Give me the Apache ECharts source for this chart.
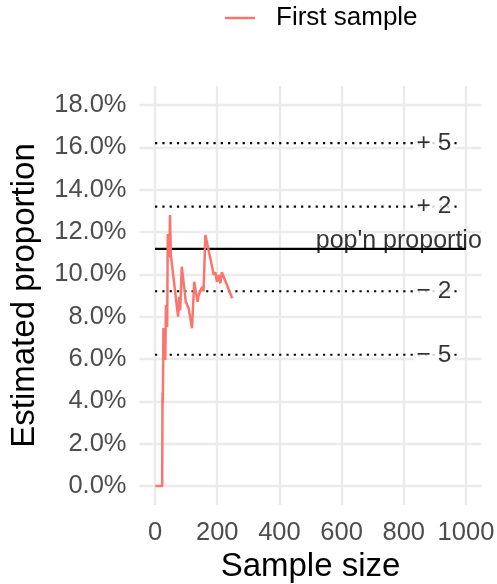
<!DOCTYPE html>
<html>
<head>
<meta charset="utf-8">
<script src="https://cdn.jsdelivr.net/npm/echarts@6/dist/echarts.min.js"></script>
<style>
html,body{margin:0;padding:0;background:#fff;}
#chart{width:497px;height:584px;}
</style>
</head>
<body>
<div id="chart"></div>
<script>
// Sample sizes and running estimated proportion (%) of the first sample
const sampleSizes = [1, 23, 24, 25, 27, 33, 35, 39, 41, 46, 48, 51, 74, 78, 81, 86, 99, 108, 119, 126, 137, 140, 151, 156, 162, 189, 194, 199, 205, 210, 215, 248];
const estimates   = [0, 0, 4.4, 3.9, 7.46, 5.95, 8.55, 7.5, 11.9, 10.8, 12.8, 10.9, 8.0, 8.94, 8.3, 10.36, 8.7, 8.4, 7.45, 9.65, 8.7, 9.0, 9.4, 9.2, 11.86, 9.97, 10.1, 9.65, 9.97, 9.57, 10.1, 8.87];

// Population proportion (%) and reference band offsets (percentage points)
const popProportion = 11.2;
const bandOffsets = [5, 2, -2, -5];
const bandLabels = ['+ 5', '+ 2', '\u2212 2', '\u2212 5'];
const bandStart = 0, bandEnd = 975, bandLabelX = 897;
const popLineStart = 0, popLineEnd = 1000, popLabelX = 517;
const popLabel = "pop'n proportion";

// Axis ticks
const xTicks = [0, 200, 400, 600, 800, 1000];
const yTicks = [0, 2, 4, 6, 8, 10, 12, 14, 16, 18];

const FONT = 'Liberation Sans, Arial, Helvetica, sans-serif';
const chart = echarts.init(document.getElementById('chart'), null, {renderer: 'canvas'});

const series = [];
series.push({
  name: 'First sample',
  type: 'line',
  data: sampleSizes.map((n, i) => [n, estimates[i]]),
  showSymbol: false,
  symbol: 'none',
  lineStyle: {color: '#F8766D', width: 2.5},
  itemStyle: {color: '#F8766D'},
  z: 5,
  animation: false
});
bandOffsets.forEach((d, i) => {
  const y = +(popProportion + d).toFixed(2);
  series.push({
    name: 'band' + i,
    type: 'line',
    data: [[bandStart, y], [bandEnd, y]],
    symbol: 'none',
    lineStyle: {color: '#000', width: 2.2, type: [2.2, 5.1], cap: 'butt'},
    silent: true,
    z: 3,
    animation: false
  });
  series.push({
    name: 'bandLabel' + i,
    type: 'scatter',
    data: [[bandLabelX, y]],
    symbolSize: 0,
    silent: true,
    z: 6,
    label: {
      show: true, position: 'inside', formatter: bandLabels[i],
      fontFamily: FONT, fontSize: 24.5, color: '#000',
      backgroundColor: '#fff', padding: [0, 3, 0, 3]
    },
    animation: false
  });
});
series.push({
  name: 'pop',
  type: 'line',
  data: [[popLineStart, popProportion], [popLineEnd, popProportion]],
  symbol: 'none',
  lineStyle: {color: '#000', width: 2.3},
  silent: true,
  z: 4,
  animation: false
});
series.push({
  name: 'popLabel',
  type: 'scatter',
  data: [[popLabelX, popProportion]],
  symbolSize: 0,
  silent: true,
  z: 6,
  label: {
    show: true, position: 'top', distance: 0, align: 'left', verticalAlign: 'bottom',
    offset: [0, 5],
    formatter: popLabel, fontFamily: FONT, fontSize: 25, color: '#000',
    width: 175, overflow: 'truncate', ellipsis: ''
  },
  animation: false
});

chart.setOption({
  backgroundColor: '#fff',
  animation: false,
  textStyle: {fontFamily: FONT},
  legend: {
    data: ['First sample'],
    top: 5, left: 225, padding: 0,
    itemWidth: 30, itemHeight: 14,
    icon: 'path://M0,6 L30,6 L30,8.5 L0,8.5 Z',
    itemStyle: {color: '#F8766D'},
    textStyle: {fontSize: 26, color: '#000', fontFamily: FONT, padding: [0, 0, 0, 16]}
  },
  grid: {left: 139.5, right: 15.5, top: 86, bottom: 79, containLabel: false, outerBoundsMode: 'none'},
  xAxis: {
    type: 'value', min: -50, max: 1050,
    name: 'Sample size', nameLocation: 'middle', nameGap: 43,
    nameTextStyle: {fontSize: 33, color: '#000', fontFamily: FONT},
    axisLine: {show: false, onZero: false},
    axisTick: {show: false, customValues: xTicks},
    axisLabel: {customValues: xTicks, fontSize: 25.5, color: '#4D4D4D', margin: 15, fontFamily: FONT,
      formatter: v => String(v)},
    splitLine: {show: true, lineStyle: {color: '#EBEBEB', width: 2.4}}
  },
  yAxis: {
    type: 'value', min: -0.9, max: 18.9,
    name: 'Estimated proportion', nameLocation: 'middle', nameGap: 98,
    nameTextStyle: {fontSize: 33, color: '#000', fontFamily: FONT},
    axisLine: {show: false, onZero: false},
    axisTick: {show: false, customValues: yTicks},
    axisLabel: {customValues: yTicks, fontSize: 25.5, color: '#4D4D4D', margin: 13,
      formatter: v => v.toFixed(1) + '%', fontFamily: FONT},
    splitLine: {show: true, lineStyle: {color: '#EBEBEB', width: 2.4}}
  },
  series: series
});
</script>
</body>
</html>
